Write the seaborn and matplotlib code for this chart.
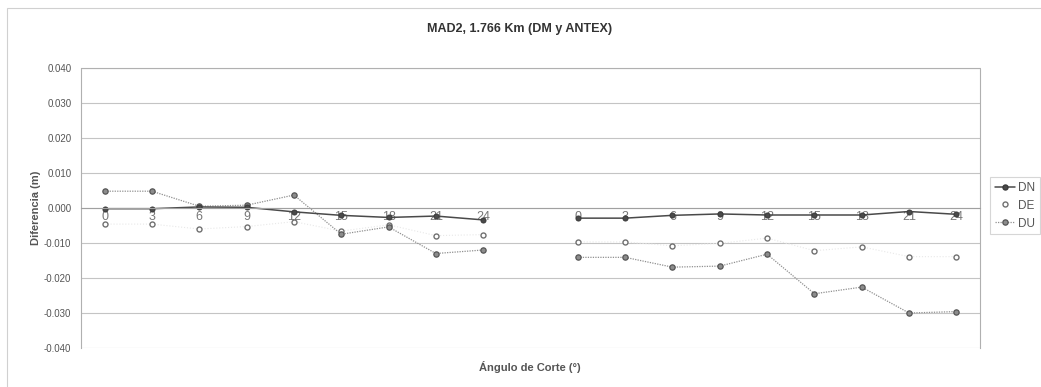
import numpy as np
import pandas as pd
import matplotlib
matplotlib.use("Agg")
import matplotlib.pyplot as plt
from matplotlib.lines import Line2D
from matplotlib.patches import Rectangle
from matplotlib.ticker import FuncFormatter, FixedLocator
import seaborn as sns

# Cut-off angles (degrees) for the two processing blocks
angles = [0, 3, 6, 9, 12, 15, 18, 21, 24]

# Block 1 differences (m)
dn_1 = [-0.0002, -0.0002, 0.0003, 0.0002, -0.0011, -0.0021, -0.0027, -0.0023, -0.0034]
de_1 = [-0.0046, -0.0046, -0.0060, -0.0053, -0.0039, -0.0066, -0.0048, -0.0079, -0.0076]
du_1 = [0.0048, 0.0048, 0.0005, 0.0008, 0.0037, -0.0075, -0.0054, -0.0130, -0.0120]

# Block 2 differences (m)
dn_2 = [-0.0029, -0.0029, -0.0021, -0.0017, -0.0020, -0.0020, -0.0020, -0.0010, -0.0018]
de_2 = [-0.0097, -0.0097, -0.0108, -0.0101, -0.0086, -0.0122, -0.0111, -0.0139, -0.0139]
du_2 = [-0.0141, -0.0141, -0.0169, -0.0166, -0.0132, -0.0245, -0.0226, -0.0300, -0.0296]

series_names = ["DN", "DE", "DU"]
y_ticks = [0.040, 0.030, 0.020, 0.010, 0.000, -0.010, -0.020, -0.030, -0.040]

# Category slots: 9 angles, an empty slot, 9 angles
tick_labels = [str(a) for a in angles] + [""] + [str(a) for a in angles]
pos_1 = list(range(len(angles)))
pos_2 = [len(angles) + 1 + i for i in range(len(angles))]

rows = []
for name, v1, v2 in zip(series_names, [dn_1, de_1, du_1], [dn_2, de_2, du_2]):
    for p, v in zip(pos_1, v1):
        rows.append(dict(serie=name, block=1, pos=p, val=v))
    for p, v in zip(pos_2, v2):
        rows.append(dict(serie=name, block=2, pos=p, val=v))
df = pd.DataFrame(rows)

sns.set_theme(style="white")
plt.rcParams["font.family"] = ["Liberation Sans", "DejaVu Sans"]

fig = plt.figure(figsize=(10.41, 3.87), dpi=100)
fig.patch.set_facecolor("white")
ax = fig.add_axes([81 / 1041, 39 / 387, 899 / 1041, 280 / 387])

styles = {
    "DN": dict(color="#4a4a4a", linestyle="-", linewidth=1.1,
               marker="o", markersize=3.6, markerfacecolor="#4a4a4a", markeredgecolor="#3a3a3a"),
    "DE": dict(color="#e8e8e8", linestyle=":", linewidth=0.8,
               marker="o", markersize=3.6, markerfacecolor="white", markeredgecolor="#707070",
               markeredgewidth=1.0),
    "DU": dict(color="#909090", linestyle=(0, (1, 1)), linewidth=0.9,
               marker="o", markersize=3.8, markerfacecolor="#8c8c8c", markeredgecolor="#555555",
               markeredgewidth=0.9),
}

for name in ["DE", "DU", "DN"]:
    st = dict(styles[name])
    color = st.pop("color")
    sns.lineplot(data=df[df.serie == name], x="pos", y="val", units="block",
                 estimator=None, color=color, ax=ax, legend=False, **st)

ax.set_xlim(-0.5, len(tick_labels) - 0.5)
ax.set_ylim(-0.040, 0.040)

# y axis
ax.yaxis.set_major_locator(FixedLocator(y_ticks))
ax.yaxis.set_major_formatter(FuncFormatter(lambda v, _: f"{0 if abs(v) < 1e-9 else v:.3f}"))
ax.grid(axis="y", color="#c4c4c4", linewidth=0.8)
ax.set_axisbelow(True)
ax.tick_params(axis="y", labelsize=7, labelcolor="#555555", length=3, color="#999999", pad=4)

# category axis crossing at zero
ax.spines["bottom"].set_position(("data", 0))
ax.spines["bottom"].set_color("#a0a0a0")
ax.spines["bottom"].set_linewidth(0.8)
for s in ["left", "top", "right"]:
    ax.spines[s].set_color("#b0b0b0")
    ax.spines[s].set_linewidth(0.8)
    ax.spines[s].set_linestyle((0, (1, 1)))
ax.set_xticks(range(len(tick_labels)))
ax.set_xticklabels(tick_labels)
ax.set_xticks(np.arange(-0.5, len(tick_labels), 1.0), minor=True)
ax.tick_params(axis="x", which="major", length=0, labelsize=9, labelcolor="#777777", pad=2)
ax.tick_params(axis="x", which="minor", length=3, color="#b0b0b0", direction="in")

ax.set_xlabel("")
ax.set_ylabel("")
fig.text(530 / 1041, 1 - 367 / 387, "Ángulo de Corte (°)", ha="center", va="center",
         fontsize=8, fontweight="bold", color="#555555")
fig.text(36 / 1041, 1 - 208 / 387, "Diferencia (m)", ha="center", va="center",
         rotation=90, fontsize=8, fontweight="bold", color="#555555")
fig.text(520 / 1041, 1 - 29 / 387, "MAD2, 1.766 Km (DM y ANTEX)", ha="center", va="center",
         fontsize=9, fontweight="bold", color="#333333")

# outer chart frame
fig.patches.append(Rectangle((7 / 1041, -0.05), 1.1, 1 - 8 / 387 + 0.05,
                             transform=fig.transFigure, fill=False,
                             edgecolor="#d0d0d0", linewidth=0.8))

handles = []
for name in series_names:
    st = dict(styles[name])
    color = st.pop("color")
    if name == "DE":
        color = "white"
    handles.append(Line2D([0], [0], color=color, **st))
leg = fig.legend(handles, series_names, loc="upper left",
                 bbox_to_anchor=(990 / 1041, 1 - 177 / 387),
                 frameon=True, fontsize=8.5, handlelength=1.7, handletextpad=0.3,
                 labelspacing=0.5, borderpad=0.4, borderaxespad=0)
leg.get_frame().set_edgecolor("#cccccc")
leg.get_frame().set_linewidth(0.8)
leg.get_frame().set_boxstyle("square", pad=0)
for t in leg.get_texts():
    t.set_color("#555555")

fig.savefig("out.png", dpi=100)
